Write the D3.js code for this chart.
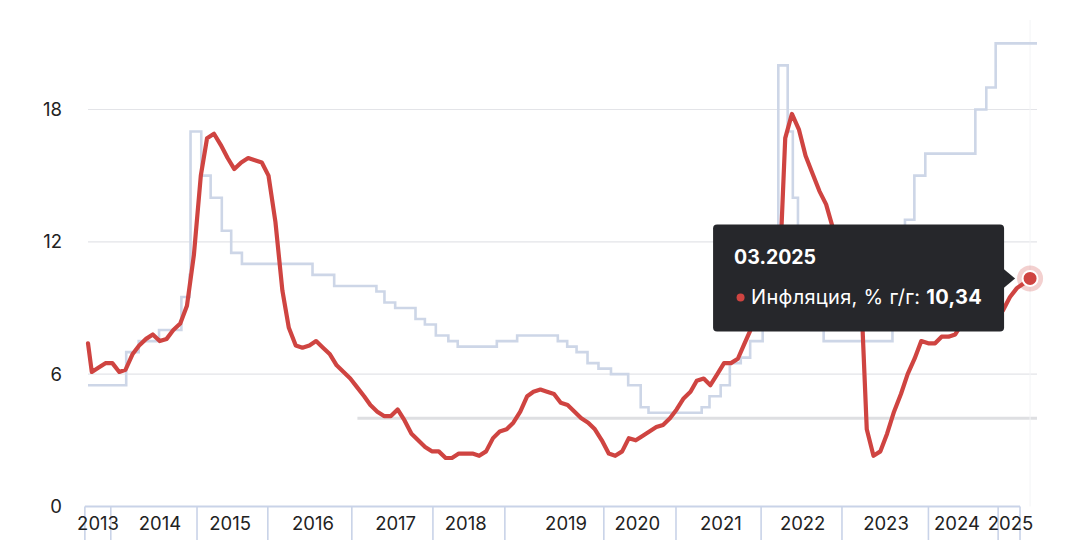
<!DOCTYPE html>
<html><head><meta charset="utf-8">
<script src="https://cdn.jsdelivr.net/npm/d3@7"></script>
<style>
body{margin:0;background:#fff}
svg{display:block;font-family:Inter,"Noto Sans",sans-serif}
</style>
</head><body><svg id="c" width="1080" height="540"></svg>
<script>
// ---------- DATA ----------
const inflationLead = {date: "2013-09-13", value: 7.4};
const inflationStart = "2013-09";          // first month-end value
const inflation2013 = [6.1, 6.3, 6.5, 6.5];
const inflation2014 = [6.1, 6.2, 6.9, 7.3, 7.6, 7.8, 7.5, 7.6, 8.0, 8.3, 9.1, 11.4];
const inflation2015 = [15.0, 16.7, 16.9, 16.4, 15.8, 15.3, 15.6, 15.8, 15.7, 15.6, 15.0, 12.9];
const inflation2016 = [9.8, 8.1, 7.3, 7.2, 7.3, 7.5, 7.2, 6.9, 6.4, 6.1, 5.8, 5.4];
const inflation2017 = [5.0, 4.6, 4.3, 4.1, 4.1, 4.4, 3.9, 3.3, 3.0, 2.7, 2.5, 2.5];
const inflation2018 = [2.2, 2.2, 2.4, 2.4, 2.4, 2.3, 2.5, 3.1, 3.4, 3.5, 3.8, 4.3];
const inflation2019 = [5.0, 5.2, 5.3, 5.2, 5.1, 4.7, 4.6, 4.3, 4.0, 3.8, 3.5, 3.0];
const inflation2020 = [2.4, 2.3, 2.5, 3.1, 3.0, 3.2, 3.4, 3.6, 3.7, 4.0, 4.4, 4.9];
const inflation2021 = [5.2, 5.7, 5.8, 5.5, 6.0, 6.5, 6.5, 6.7, 7.4, 8.1, 8.4, 8.4];
const inflation2022 = [8.7, 9.2, 16.7, 17.8, 17.1, 15.9, 15.1, 14.3, 13.7, 12.6, 12.0, 11.9];
const inflation2023 = [11.8, 11.0, 3.5, 2.3, 2.5, 3.3, 4.3, 5.1, 6.0, 6.7, 7.5, 7.4];
const inflation2024 = [7.4, 7.7, 7.7, 7.8, 8.3, 8.6, 9.1, 9.1, 8.6, 8.5, 8.9, 9.5];
const inflation2025 = [9.9, 10.1, 10.34];

const keyRateDates = ["2013-09-13","2014-03-03","2014-04-28","2014-07-28","2014-11-05","2014-12-12","2014-12-16",
  "2015-02-02","2015-03-16","2015-05-05","2015-06-16","2015-08-03","2016-06-14","2016-09-19",
  "2017-03-27","2017-05-02","2017-06-19","2017-09-18","2017-10-30","2017-12-18",
  "2018-02-12","2018-03-26","2018-09-17","2018-12-17",
  "2019-06-17","2019-07-29","2019-09-09","2019-10-28","2019-12-16",
  "2020-02-10","2020-04-27","2020-06-22","2020-07-27",
  "2021-03-22","2021-04-26","2021-06-15","2021-07-26","2021-09-13","2021-10-25","2021-12-20",
  "2022-02-14","2022-02-28","2022-04-11","2022-05-04","2022-05-27","2022-06-14","2022-07-25","2022-09-19",
  "2023-07-24","2023-08-15","2023-09-18","2023-10-30","2023-12-18",
  "2024-07-29","2024-09-16","2024-10-28"];
const keyRateValues = [5.5,7.0,7.5,8.0,9.5,10.5,17.0,
  15.0,14.0,12.5,11.5,11.0,10.5,10.0,
  9.75,9.25,9.0,8.5,8.25,7.75,
  7.5,7.25,7.5,7.75,
  7.5,7.25,7.0,6.5,6.25,
  6.0,5.5,4.5,4.25,
  4.5,5.0,5.5,6.5,6.75,7.5,8.5,
  9.5,20.0,17.0,14.0,11.0,9.5,8.0,7.5,
  8.5,12.0,13.0,15.0,16.0,
  18.0,19.0,21.0];
const seriesEnd = "2025-05-01";

const targetValue = 4;
const targetStart = "2017-01-01";

const yTicks = [0, 6, 12, 18];
const yearLabels = ["2013","2014","2015","2016","2017","2018","2019","2020","2021","2022","2023","2024","2025"];
const yearBoundaries = ["2013-08-30","2013-12-24","2015-01-14","2015-11-27","2016-12-07","2017-12-05","2018-10-23",
  "2020-01-09","2020-11-27","2021-12-13","2022-12-10","2024-01-01","2024-11-08","2025-02-14"];
const yearLabelDates = ["2013-10-28","2014-08-01","2015-06-11","2016-06-16","2017-06-21","2018-05-01","2019-07-24",
  "2020-06-07","2021-06-16","2022-06-17","2023-06-25","2024-05-08","2025-01-02"];

const tooltipSeriesName = "Инфляция, % г/г: ";

// ---------- BUILD ----------
const parse = d3.timeParse("%Y-%m-%d");
const monthly = [].concat(inflation2013, inflation2014, inflation2015, inflation2016, inflation2017,
  inflation2018, inflation2019, inflation2020, inflation2021, inflation2022, inflation2023,
  inflation2024, inflation2025);
const m0 = d3.timeParse("%Y-%m")(inflationStart);
const inflation = [{date: parse(inflationLead.date), value: inflationLead.value}].concat(
  monthly.map((v, i) => ({date: d3.timeDay.offset(d3.timeMonth.offset(m0, i + 1), -1), value: v})));
const keyRate = keyRateDates.map((d, i) => ({date: parse(d), value: keyRateValues[i]}));
keyRate.push({date: parse(seriesEnd), value: keyRateValues[keyRateValues.length - 1]});

const W = 1080, H = 540;
const mLeft = 88, mRight = 1037, mTop = 109.5, mBottom = 506.5;
const x = d3.scaleTime().domain([parse(keyRateDates[0]), parse(seriesEnd)]).range([mLeft, mRight]);
const y = d3.scaleLinear().domain([0, 18]).range([mBottom, mTop]);

const svg = d3.select("#c");
const RED = "#cf4441", RATE = "#cdd6e7", AXIS = "#c9d3e8", TEXT = "#222";

// grid
svg.append("g").selectAll("line").data(yTicks.filter(t => t > 0)).join("line")
  .attr("x1", mLeft).attr("x2", mRight).attr("y1", d => y(d)).attr("y2", d => y(d))
  .attr("stroke", "#e3e4e8").attr("stroke-width", 1.2);

// y labels
svg.append("g").selectAll("text").data(yTicks).join("text")
  .attr("x", 62).attr("y", d => y(d)).attr("dy", "0.36em")
  .attr("text-anchor", "end").attr("font-size", 18.5).attr("fill", TEXT).text(d => d);

// target line
svg.append("line").attr("x1", x(parse(targetStart))).attr("x2", mRight)
  .attr("y1", y(targetValue)).attr("y2", y(targetValue))
  .attr("stroke", "#dedfe2").attr("stroke-width", 3);

// crosshair
const last = inflation[inflation.length - 1];
svg.append("line").attr("x1", x(last.date)).attr("x2", x(last.date))
  .attr("y1", 20).attr("y2", mBottom).attr("stroke", "#f3f4f6").attr("stroke-width", 1);

// key rate
svg.append("path").datum(keyRate)
  .attr("d", d3.line().x(d => x(d.date)).y(d => y(d.value)).curve(d3.curveStepAfter))
  .attr("fill", "none").attr("stroke", RATE).attr("stroke-width", 2.6);

// inflation
svg.append("path").datum(inflation)
  .attr("d", d3.line().x(d => x(d.date)).y(d => y(d.value)))
  .attr("fill", "none").attr("stroke", RED).attr("stroke-width", 4.2)
  .attr("stroke-linejoin", "round").attr("stroke-linecap", "round");

// x axis
const bx = yearBoundaries.map(parse);
svg.append("line").attr("x1", x(bx[0])).attr("x2", x(bx[bx.length - 1]))
  .attr("y1", mBottom).attr("y2", mBottom).attr("stroke", AXIS).attr("stroke-width", 1.8);
svg.append("g").selectAll("line").data(bx).join("line")
  .attr("x1", d => x(d)).attr("x2", d => x(d)).attr("y1", mBottom).attr("y2", H)
  .attr("stroke", AXIS).attr("stroke-width", 1.6);
svg.append("g").selectAll("text").data(yearLabels).join("text")
  .attr("x", (d, i) => x(parse(yearLabelDates[i]))).attr("y", 529.5)
  .attr("text-anchor", "middle").attr("font-size", 18.5).attr("fill", TEXT).text(d => d);

// highlight point
const px = x(last.date), py = y(last.value);
svg.append("circle").attr("cx", px).attr("cy", py).attr("r", 13).attr("fill", RED).attr("opacity", 0.25);
svg.append("circle").attr("cx", px).attr("cy", py).attr("r", 7.5).attr("fill", RED)
  .attr("stroke", "#fff").attr("stroke-width", 2);

// tooltip
const tipR = px - 26, tipW = 291, tipH = 107, tipT = py - 54;
const tip = svg.append("g");
tip.append("rect").attr("x", tipR - tipW).attr("y", tipT).attr("width", tipW).attr("height", tipH)
  .attr("rx", 4).attr("fill", "#26272b");
tip.append("path").attr("d", `M${tipR - 1},${py - 10}L${px - 15},${py}L${tipR - 1},${py + 10}Z`).attr("fill", "#26272b");
tip.append("text").attr("x", tipR - tipW + 21).attr("y", tipT + 40)
  .attr("font-size", 19.5).attr("font-weight", 700).attr("fill", "#fff")
  .text(d3.timeFormat("%m.%Y")(last.date));
tip.append("circle").attr("cx", tipR - tipW + 27.5).attr("cy", tipT + 73).attr("r", 4).attr("fill", RED);
const row = tip.append("text").attr("x", tipR - tipW + 38).attr("y", tipT + 80)
  .attr("font-size", 20).attr("letter-spacing", 0.3).attr("fill", "#fff");
row.append("tspan").text(tooltipSeriesName);
row.append("tspan").attr("font-weight", 700).text(last.value.toFixed(2).replace(".", ","));
</script>
</body></html>
